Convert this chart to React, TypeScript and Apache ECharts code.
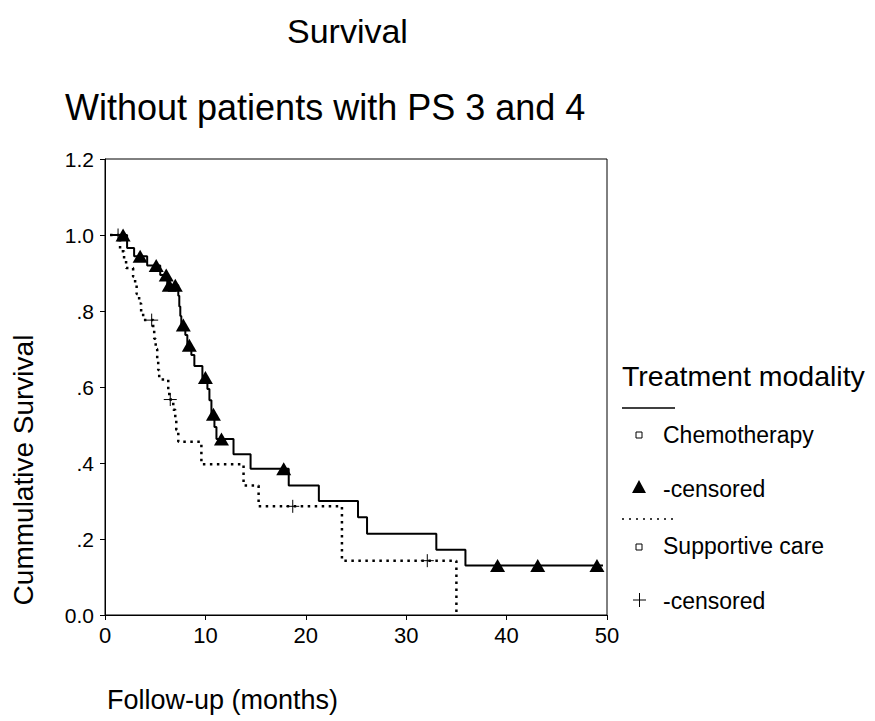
import React, { useEffect, useRef } from "react";
import * as echarts from "echarts";

const FONT = '"Liberation Sans", Arial, Helvetica, sans-serif';

// Kaplan-Meier step points [month, cumulative survival] (value after each drop)
const chemoSteps: [number, number][] = [
  [0.5, 1.0], [2.2, 0.966], [2.9, 0.944], [4.2, 0.92], [5.5, 0.895], [6.2, 0.868],
  [7.3, 0.84], [7.4, 0.812], [7.5, 0.787], [7.6, 0.763], [8.0, 0.737], [8.2, 0.71],
  [8.6, 0.684], [8.9, 0.655], [9.7, 0.625], [10.2, 0.595], [10.4, 0.565], [10.6, 0.528],
  [10.9, 0.495], [11.1, 0.463], [12.8, 0.423], [14.5, 0.385], [18.3, 0.341], [21.3, 0.3],
  [25.2, 0.257], [26.1, 0.214], [33.0, 0.172], [35.9, 0.13], [49.6, 0.13],
];
const chemoCensored: [number, number][] = [
  [1.8, 1.0], [3.5, 0.944], [5.1, 0.92], [6.1, 0.895], [6.4, 0.868], [7.0, 0.868],
  [7.8, 0.763], [8.4, 0.71], [10.0, 0.625], [10.8, 0.528], [11.6, 0.463], [17.8, 0.385],
  [39.1, 0.13], [43.1, 0.13], [49.0, 0.13],
];
const supportiveSteps: [number, number][] = [
  [0.5, 1.0], [1.5, 0.957], [1.9, 0.935], [2.1, 0.913], [2.8, 0.89], [3.0, 0.868],
  [3.15, 0.845], [3.4, 0.82], [3.6, 0.798], [3.8, 0.776], [4.8, 0.752], [4.9, 0.727],
  [5.05, 0.7], [5.2, 0.672], [5.3, 0.645], [5.4, 0.62], [6.3, 0.593], [6.4, 0.567],
  [6.8, 0.54], [7.0, 0.513], [7.1, 0.487], [7.3, 0.456], [9.6, 0.397], [13.8, 0.341],
  [15.3, 0.286], [23.6, 0.143], [35.0, 0.0],
];
const supportiveCensored: [number, number][] = [
  [1.3, 1.0], [4.65, 0.776], [6.5, 0.567], [18.7, 0.286], [32.1, 0.143],
];

const yTickLabels = ["0.0", ".2", ".4", ".6", ".8", "1.0", "1.2"];
const titleText = "Survival";
const subtitleText = "Without patients with PS 3 and 4";
const xAxisTitle = "Follow-up (months)";
const yAxisTitle = "Cummulative Survival";
const legendTitle = "Treatment modality";
const legendLabels = ["Chemotherapy", "-censored", "Supportive care", "-censored"];

const CROSS = "path://M6,0 L6,12 M0,6 L12,6";

function txt(text: string, x: number, y: number, size: number, align = "left", extra: any = {}) {
  return {
    type: "text",
    x,
    y,
    ...extra,
    style: {
      text,
      fontSize: size,
      fontFamily: FONT,
      fill: "#000",
      textAlign: align,
      textVerticalAlign: "middle",
      align,
      verticalAlign: "middle",
    },
  };
}

export default function App() {
  const ref = useRef<HTMLDivElement>(null);
  useEffect(() => {
    const chart = echarts.init(ref.current as HTMLDivElement, null, { renderer: "svg" });
    const lx = 622;
    const option: any = {
      animation: false,
      backgroundColor: "#fff",
      grid: {
        left: 105,
        top: 159,
        width: 502,
        height: 456,
        show: true,
        borderColor: "#000",
        borderWidth: 1,
        containLabel: false,
      },
      xAxis: {
        type: "value",
        min: 0,
        max: 50,
        interval: 10,
        axisLine: { show: true, lineStyle: { color: "#000", width: 1 } },
        axisTick: { show: true, length: 5, lineStyle: { color: "#000" } },
        axisLabel: { fontSize: 22, color: "#000", fontFamily: FONT, margin: 9 },
        splitLine: { show: false },
      },
      yAxis: {
        type: "value",
        min: 0,
        max: 1.2,
        interval: 0.2,
        axisLine: { show: true, lineStyle: { color: "#000", width: 1 } },
        axisTick: { show: true, length: 5, lineStyle: { color: "#000" } },
        axisLabel: {
          fontSize: 21,
          color: "#000",
          fontFamily: FONT,
          margin: 11,
          formatter: (v: number) => yTickLabels[Math.round(v / 0.2)] ?? "",
        },
        splitLine: { show: false },
      },
      series: [
        {
          name: "Chemotherapy",
          type: "line",
          step: "end",
          symbol: "none",
          data: chemoSteps,
          lineStyle: { color: "#000", width: 2, type: "solid" },
          z: 3,
        },
        {
          name: "Supportive care",
          type: "line",
          step: "end",
          symbol: "none",
          data: supportiveSteps,
          lineStyle: { color: "#000", width: 2.5, type: [2.5, 4.5] },
          z: 2,
        },
        {
          name: "Chemotherapy censored",
          type: "scatter",
          symbol: "triangle",
          symbolSize: [15, 13],
          data: chemoCensored,
          itemStyle: { color: "#000", opacity: 1 },
          z: 4,
        },
        {
          name: "Supportive care censored",
          type: "scatter",
          symbol: CROSS,
          symbolSize: 13,
          data: supportiveCensored,
          itemStyle: { color: "rgba(0,0,0,0)", borderColor: "#000", borderWidth: 1, opacity: 1 },
          z: 4,
        },
      ],
      graphic: [
        txt(titleText, 287, 31, 34),
        txt(subtitleText, 65, 107, 36),
        txt(xAxisTitle, 107, 700, 27),
        txt(yAxisTitle, 23, 470, 28, "center", { rotation: Math.PI / 2 }),
        txt(legendTitle, lx, 376, 28.5),
        {
          type: "line",
          shape: { x1: lx, y1: 408, x2: lx + 53, y2: 408 },
          style: { stroke: "#000", lineWidth: 1.5 },
        },
        {
          type: "rect",
          shape: { x: 636, y: 432, width: 6, height: 6 },
          style: { fill: "#fff", stroke: "#000", lineWidth: 1 },
        },
        txt(legendLabels[0], 663, 435, 23),
        {
          type: "polygon",
          shape: { points: [[639, 480], [646, 493], [632, 493]] },
          style: { fill: "#000" },
        },
        txt(legendLabels[1], 663, 489, 23),
        {
          type: "line",
          shape: { x1: lx, y1: 519, x2: lx + 53, y2: 519 },
          style: { stroke: "#000", lineWidth: 1.5, lineDash: [2, 5] },
        },
        {
          type: "rect",
          shape: { x: 636, y: 544, width: 6, height: 6 },
          style: { fill: "#fff", stroke: "#000", lineWidth: 1 },
        },
        txt(legendLabels[2], 663, 546, 23),
        {
          type: "line",
          shape: { x1: 633, y1: 600, x2: 646, y2: 600 },
          style: { stroke: "#000", lineWidth: 1 },
        },
        {
          type: "line",
          shape: { x1: 639.5, y1: 593, x2: 639.5, y2: 607 },
          style: { stroke: "#000", lineWidth: 1 },
        },
        txt(legendLabels[3], 663, 601, 23),
      ],
    };
    chart.setOption(option);
    return () => chart.dispose();
  }, []);
  return (
    <div
      ref={ref}
      style={{ position: "absolute", left: 0, top: 0, width: 875, height: 721, background: "#fff" }}
    />
  );
}
